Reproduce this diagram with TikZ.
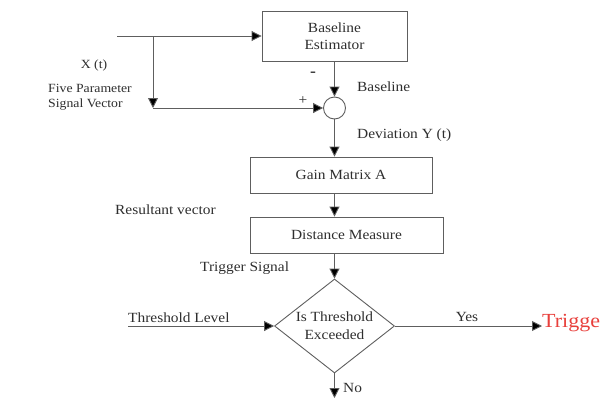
\documentclass[tikz,border=0pt]{standalone}
\usepackage{fontspec}
\setmainfont{Liberation Serif}[FakeStretch=1.1]
\usetikzlibrary{arrows.meta}
\usetikzlibrary{shapes.geometric}
\definecolor{wireGray}{HTML}{5E5E5E}
\definecolor{textGray}{HTML}{2E2E2E}
\definecolor{trigRed}{HTML}{E8403C}
\tikzset{
  block/.style={draw=wireGray, line width=0.9pt, inner sep=0pt, align=center,
    text=textGray, font=\fontsize{14}{17}\selectfont},
  decision/.style={draw=wireGray, line width=0.9pt, diamond, aspect=1.28,
    inner sep=0pt, align=center, text=textGray,
    font=\fontsize{14}{18}\selectfont},
  wire/.style={draw=wireGray, line width=0.9pt,
    -{Triangle[length=10pt, width=10pt, fill=black]}},
  lbl/.style={text=textGray, font=\fontsize{14}{17}\selectfont, inner sep=0pt},
  small/.style={text=textGray, font=\fontsize{12.5}{17}\selectfont, inner sep=0pt}
}

\begin{document}
\begin{tikzpicture}[x=1pt, y=-1pt]
    \useasboundingbox (0,0) rectangle (600,402);

    \node[block, minimum width=145pt, minimum height=50pt] (est) at (334.5,36) {Baseline\\Estimator};
    \node[draw=wireGray, line width=0.9pt, circle, minimum size=22pt, inner sep=0pt] (sum) at (334.5,108) {};
    \node[block, minimum width=182pt, minimum height=36pt] (gain) at (341,175) {Gain Matrix A};
    \node[block, minimum width=193pt, minimum height=36pt] (dist) at (346.5,235) {Distance Measure};
    \node[decision, minimum width=120pt, minimum height=94pt] (test) at (334.5,326) {Is Threshold\\Exceeded};

    % input vector and its copy to the summing point
    \coordinate (xin) at (117,36);
    \coordinate (split) at (153,36);
    \coordinate (fork) at (153,108);
    \draw[wire] (xin) -- (est.west);
    \draw[wire] (split) -- (fork);
    \draw[wire] (fork) -- (sum.west);

    \draw[wire] (est.south) -- (sum.north);
    \draw[wire] (sum.south) -- (sum.south |- gain.north);
    \draw[wire] (sum.south |- gain.south) -- (sum.south |- dist.north);
    \draw[wire] (sum.south |- dist.south) -- (test.north);

    % threshold test
    \coordinate (thr) at (128,326);
    \coordinate (no) at (334.5,398);
    \node[anchor=west, inner sep=0pt, text=trigRed, font=\fontsize{20}{22}\selectfont] (out) at (542,323) {Trigge};
    \draw[wire] (thr) -- (test.west);
    \draw[wire] (test.east) -- (test.east -| out.west);
    \draw[wire] (test.south) -- (no);

    \node[small] (xt) at (94,65) {X (t)};
    \node[small, anchor=west] (five) at (48,88) {Five Parameter};
    \node[small, anchor=west] (sig) at (48,105) {Signal Vector};
    \node[lbl, font=\fontsize{16}{17}\bfseries] (minus) at (313,74) {-};
    \node[lbl, font=\fontsize{14}{17}\selectfont] (plus) at (303,101) {+};
    \node[lbl, anchor=west] (bl) at (357,87) {Baseline};
    \node[lbl, anchor=west] (dev) at (357,135) {Deviation Y (t)};
    \node[lbl, anchor=west] (res) at (115,210) {Resultant vector};
    \node[lbl, anchor=west] (trs) at (200,268) {Trigger Signal};
    \node[lbl, anchor=west] (thl) at (128,318) {Threshold Level};
    \node[lbl] (yes) at (467,317) {Yes};
    \node[lbl, anchor=west] (nol) at (343,388) {No};
\end{tikzpicture}
\end{document}
